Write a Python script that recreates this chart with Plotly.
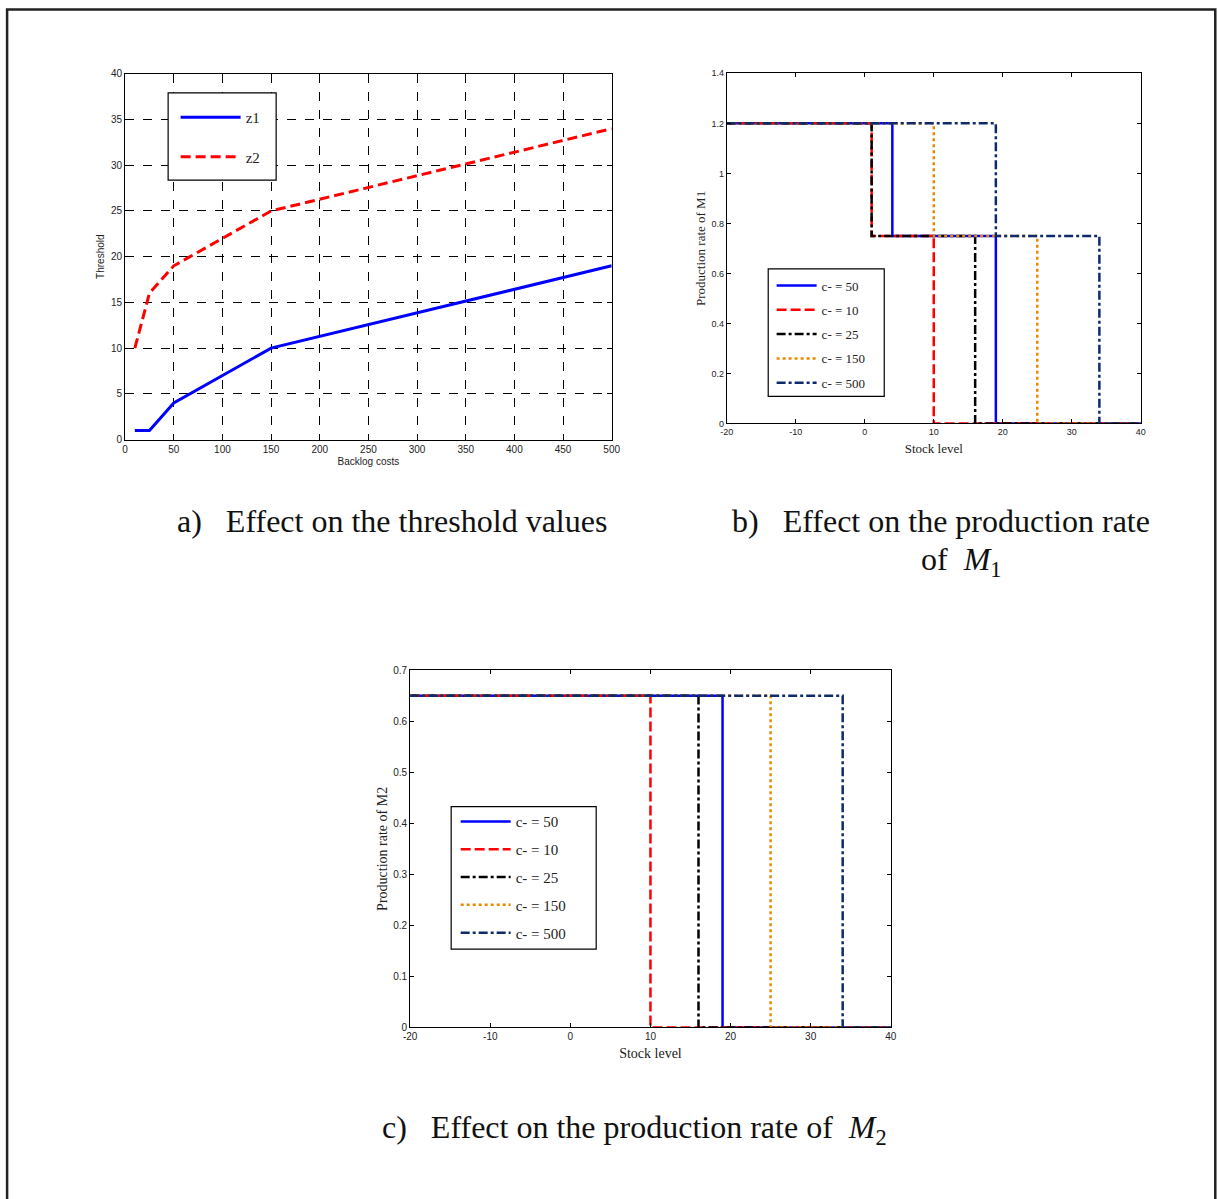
import plotly.graph_objects as go

# The photographed page shows the figure shifted by the body's 8px margin and
# scaled by about 1202/1218; positions below are given in final picture pixels
# and mapped back to figure pixels.
S = 1202 / 1218
OFF = 8
W, H = 1232, 1212

# ---------------- data ----------------
backlog_costs = [10, 25, 50, 150, 500]
z1 = [1, 1, 4, 10, 19]
z2 = [10, 16, 19, 25, 34]

# legend order used in panels b) and c)
c_values = [50, 10, 25, 150, 500]
rate_m1_high = 1.2
rate_m1_mid = 0.75
rate_m2 = 0.65
stock_ticks = [-20, -10, 0, 10, 20, 30, 40]
stock_tick_labels = ["-20", "-10", "0", "10", "20", "30", "40"]

styles = {
    50: dict(color="#0000FF", dash="solid"),
    10: dict(color="#FF0000", dash="10px,4px"),
    25: dict(color="#000000", dash="9px,3px,3px,3px"),
    150: dict(color="#E68A00", dash="3px,3px"),
    500: dict(color="#0F2A6C", dash="9px,3px,3px,3px"),
}


def px(x):
    return (x / S - OFF) / W


def py(y):
    return 1 - (y / S - OFF) / H


fig = go.Figure()

# ---------------- panel a ----------------
fig.add_trace(go.Scatter(x=backlog_costs, y=z1, mode="lines", name="z1",
                         line=dict(color="#0000FF", width=3),
                         xaxis="x", yaxis="y", legend="legend", legendgroup="a1"))
fig.add_trace(go.Scatter(x=backlog_costs, y=z2, mode="lines", name="z2",
                         line=dict(color="#FF0000", width=3, dash="10px,5px"),
                         xaxis="x", yaxis="y", legend="legend", legendgroup="a2"))

# ---------------- panel b and c ----------------
for c in c_values:
    i = backlog_costs.index(c)
    st = styles[c]
    fig.add_trace(go.Scatter(
        x=[stock_ticks[0], z1[i], z2[i], stock_ticks[-1]],
        y=[rate_m1_high, rate_m1_mid, 0, 0],
        mode="lines", line_shape="hv", name=f"c- = {c}",
        line=dict(color=st["color"], width=2.5, dash=st["dash"]),
        xaxis="x2", yaxis="y2", legend="legend2", legendgroup=f"b{c}"))
for c in c_values:
    i = backlog_costs.index(c)
    st = styles[c]
    fig.add_trace(go.Scatter(
        x=[stock_ticks[0], z2[i], stock_ticks[-1]],
        y=[rate_m2, 0, 0],
        mode="lines", line_shape="hv", name=f"c- = {c}",
        line=dict(color=st["color"], width=2.5, dash=st["dash"]),
        xaxis="x3", yaxis="y3", legend="legend3", legendgroup=f"c{c}"))

sans = "Liberation Sans, Arial, sans-serif"
serif = "Liberation Serif, Times New Roman, serif"

common_ax = dict(showline=True, linecolor="black", linewidth=1, mirror="ticks",
                 ticks="inside", tickcolor="black", zeroline=False)
grid_ax = dict(showgrid=True, gridcolor="black", griddash="dash", gridwidth=1)
leg_common = dict(xanchor="left", yanchor="top", bgcolor="rgba(0,0,0,0)", borderwidth=0)

fig.update_layout(
    width=W, height=H, margin=dict(l=0, r=0, t=0, b=0),
    paper_bgcolor="white", plot_bgcolor="white",
    xaxis=dict(domain=[px(126), px(612.5)], range=[0, 500], dtick=50, anchor="y",
               ticklen=5, tickfont=dict(family=sans, size=10, color="#222"),
               title=dict(text="Backlog costs", font=dict(family=sans, size=10, color="#222"),
                          standoff=4),
               **common_ax, **grid_ax),
    yaxis=dict(domain=[py(440), py(75.5)], range=[0, 40], dtick=5, anchor="x",
               ticklen=5, tickfont=dict(family=sans, size=10, color="#222"),
               title=dict(text="Threshold", font=dict(family=sans, size=10, color="#222"),
                          standoff=4),
               **common_ax, **grid_ax),
    xaxis2=dict(domain=[px(727.5), px(1141.5)], range=[-20, 40], anchor="y2",
                tickvals=stock_ticks, ticktext=stock_tick_labels,
                ticklen=4, tickfont=dict(family=sans, size=9, color="#222"),
                title=dict(text="Stock level", font=dict(family=serif, size=13, color="#222"),
                           standoff=7),
                showgrid=False, **common_ax),
    yaxis2=dict(domain=[py(424), py(75)], range=[0, 1.4], dtick=0.2, anchor="x2",
                ticklen=4, tickfont=dict(family=sans, size=9, color="#222"),
                title=dict(text="Production rate of M1", font=dict(family=serif, size=13, color="#222"),
                           standoff=2),
                showgrid=False, **common_ax),
    xaxis3=dict(domain=[px(411), px(891.5)], range=[-20, 40], anchor="y3",
                tickvals=stock_ticks, ticktext=stock_tick_labels,
                ticklen=4, tickfont=dict(family=sans, size=10, color="#222"),
                title=dict(text="Stock level", font=dict(family=serif, size=14, color="#222"),
                           standoff=6),
                showgrid=False, **common_ax),
    yaxis3=dict(domain=[py(1026), py(670)], range=[0, 0.7], dtick=0.1, anchor="x3",
                ticklen=4, tickfont=dict(family=sans, size=10, color="#222"),
                title=dict(text="Production rate of M2", font=dict(family=serif, size=14, color="#222"),
                           standoff=2),
                showgrid=False, **common_ax),
    legend=dict(x=px(176.5), y=py(102.6), font=dict(family=serif, size=15, color="#222"),
                itemwidth=60, tracegroupgap=17, **leg_common),
    legend2=dict(x=px(772.4), y=py(271.6), font=dict(family=serif, size=13, color="#222"),
                 itemwidth=40, tracegroupgap=4.4, **leg_common),
    legend3=dict(x=px(456.5), y=py(804.5), font=dict(family=serif, size=15, color="#222"),
                 itemwidth=50, tracegroupgap=5.3, **leg_common),
)

# legend boxes
for (x0, y0, x1, y1) in [(169, 94.5, 277, 181.5), (769, 270, 885, 397), (452, 806, 597, 948)]:
    fig.add_shape(type="rect", xref="paper", yref="paper",
                  x0=px(x0), x1=px(x1), y0=py(y1), y1=py(y0),
                  line=dict(color="black", width=1.2), fillcolor="white", layer="above")

# outer frame
fig.add_shape(type="rect", xref="paper", yref="paper",
              x0=px(8), x1=px(1216), y0=py(1230), y1=py(11.5),
              line=dict(color="#222", width=2.5), fillcolor="rgba(0,0,0,0)", layer="below")

cap_font = dict(family=serif, size=32, color="#111")
nb = "\u00a0"
captions = [
    (175.6, 521, f"a){nb*3}Effect on the threshold values"),
    (730.6, 521, f"b){nb*3}Effect on the production rate"),
    (919.6, 562, f"of{nb}{nb}<i>M</i><sub>1</sub>"),
    (380.6, 1128, f"c){nb*3}Effect on the production rate of{nb}{nb}<i>M</i><sub>2</sub>"),
]
for x0, y0, t in captions:
    fig.add_annotation(x=px(x0), y=py(y0), xref="paper", yref="paper", text=t,
                       showarrow=False, xanchor="left", yanchor="middle", font=cap_font)

fig.write_html("out.html")
